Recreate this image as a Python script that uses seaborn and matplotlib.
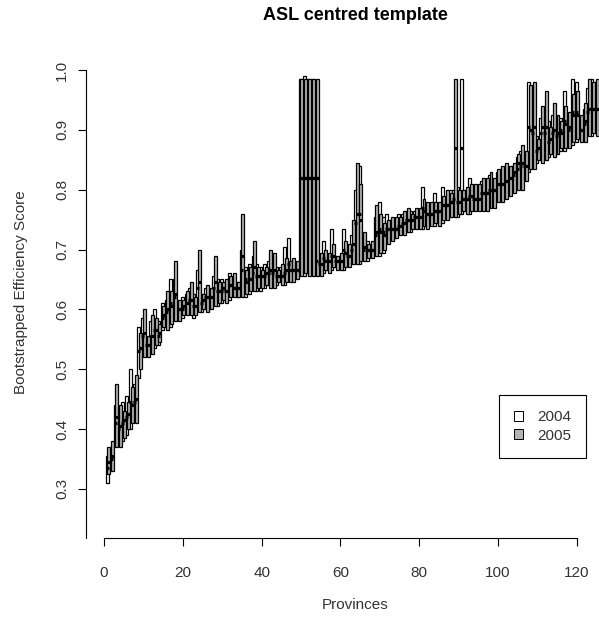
import numpy as np
import matplotlib
matplotlib.use('Agg')
import matplotlib.pyplot as plt
import seaborn as sns
from matplotlib.patches import Patch

# bootstrapped efficiency scores per province (sorted)
provinces = np.arange(1, 126)

lo_2004 = [.31, .335, .375, .38, .38, .39, .40, .415, .485, .525,
           .525, .53, .535, .54, .565, .57, .57, .585, .585, .585,
           .595, .595, .585, .60, .595, .60, .60, .61, .605, .61,
           .615, .615, .625, .62, .625, .62, .625, .635, .63, .63,
           .635, .64, .64, .64, .645, .64, .65, .65, .655, .66,
           .655, .66, .66, .66, .66, .66, .665, .665, .67, .67,
           .665, .675, .68, .68, .675, .685, .68, .69, .695, .69,
           .695, .715, .72, .72, .725, .73, .73, .73, .74, .74,
           .735, .74, .745, .74, .745, .745, .755, .755, .76, .755,
           .76, .765, .76, .77, .77, .77, .77, .775, .775, .785,
           .785, .79, .795, .80, .805, .805, .82, .83, .84, .845,
           .85, .855, .855, .86, .86, .865, .865, .875, .875, .88,
           .885, .885, .895, .89, .895]
med_2004 = [.335, .35, .41, .40, .41, .42, .445, .445, .53, .555,
            .54, .555, .565, .555, .585, .595, .61, .62, .60, .60,
            .61, .615, .605, .635, .61, .62, .62, .635, .63, .63,
            .63, .64, .635, .635, .665, .65, .65, .66, .655, .655,
            .655, .66, .66, .655, .655, .66, .675, .665, .665, .82,
            .82, .82, .82, .68, .675, .685, .68, .69, .68, .68,
            .70, .69, .70, .745, .76, .70, .70, .70, .725, .735,
            .73, .735, .735, .735, .74, .745, .75, .75, .755, .755,
            .77, .76, .76, .765, .765, .775, .775, .78, .785, .78,
            .87, .785, .79, .785, .785, .795, .795, .80, .80, .81,
            .81, .815, .82, .825, .835, .84, .84, .905, .895, .865,
            .895, .895, .88, .895, .89, .90, .915, .90, .93, .93,
            .90, .91, .93, .935, .935]
hi_2004 = [.355, .37, .44, .43, .445, .455, .50, .475, .57, .585,
           .55, .58, .60, .58, .61, .615, .65, .65, .61, .62,
           .625, .635, .625, .665, .625, .635, .63, .655, .65, .65,
           .645, .66, .655, .645, .70, .67, .675, .69, .675, .67,
           .675, .68, .685, .67, .67, .705, .72, .68, .675, .985,
           .99, .985, .985, .70, .69, .715, .69, .735, .69, .69,
           .735, .705, .725, .80, .84, .72, .715, .71, .755, .78,
           .755, .76, .75, .75, .76, .76, .765, .765, .765, .765,
           .805, .775, .775, .795, .775, .805, .79, .80, .80, .805,
           .985, .80, .82, .80, .805, .815, .815, .825, .815, .83,
           .835, .84, .835, .84, .855, .865, .86, .98, .95, .89,
           .92, .935, .915, .925, .915, .92, .965, .92, .985, .98,
           .915, .935, .97, .985, .98]

lo_2005 = [.325, .33, .37, .37, .385, .40, .41, .41, .50, .52,
           .52, .525, .54, .545, .57, .565, .575, .58, .58, .59,
           .59, .59, .59, .595, .60, .595, .60, .605, .61, .615,
           .61, .62, .62, .62, .62, .625, .63, .63, .635, .635,
           .64, .635, .635, .645, .64, .645, .645, .645, .65, .655,
           .66, .655, .655, .655, .655, .665, .66, .67, .665, .665,
           .67, .67, .675, .675, .68, .68, .685, .685, .69, .695,
           .70, .71, .715, .72, .725, .725, .73, .735, .735, .735,
           .74, .735, .74, .745, .74, .75, .75, .755, .755, .76,
           .765, .76, .765, .765, .765, .765, .765, .77, .77, .78,
           .78, .785, .79, .795, .80, .80, .815, .835, .835, .85,
           .845, .85, .86, .855, .86, .87, .87, .87, .88, .885,
           .88, .88, .89, .895, .89]
med_2005 = [.345, .355, .42, .405, .415, .425, .44, .45, .535, .56,
            .54, .555, .565, .56, .59, .60, .605, .625, .60, .605,
            .61, .615, .605, .645, .615, .62, .62, .645, .63, .635,
            .63, .64, .635, .635, .69, .645, .65, .67, .655, .655,
            .66, .665, .665, .655, .655, .665, .665, .665, .665, .82,
            .82, .82, .82, .82, .675, .68, .68, .69, .68, .68,
            .695, .69, .71, .76, .75, .705, .70, .70, .73, .73,
            .725, .735, .735, .735, .74, .745, .75, .75, .755, .755,
            .765, .76, .76, .765, .765, .775, .775, .78, .87, .78,
            .785, .785, .79, .785, .785, .795, .795, .80, .80, .81,
            .81, .815, .82, .83, .845, .845, .84, .90, .905, .87,
            .905, .905, .885, .90, .895, .895, .91, .905, .925, .925,
            .90, .915, .935, .935, .935]
hi_2005 = [.37, .38, .475, .44, .43, .445, .47, .49, .56, .60,
           .555, .59, .585, .575, .605, .63, .63, .68, .615, .615,
           .63, .645, .62, .70, .625, .64, .635, .69, .645, .645,
           .65, .655, .66, .645, .76, .665, .67, .715, .67, .665,
           .67, .70, .695, .665, .675, .685, .68, .685, .68, .985,
           .985, .985, .985, .985, .695, .70, .695, .71, .69, .695,
           .715, .71, .75, .845, .81, .73, .71, .715, .775, .76,
           .745, .75, .755, .755, .755, .765, .77, .76, .77, .77,
           .785, .78, .78, .78, .78, .79, .80, .795, .985, .80,
           .80, .805, .81, .81, .81, .82, .82, .83, .82, .835,
           .84, .845, .84, .845, .86, .875, .865, .975, .98, .885,
           .94, .965, .905, .945, .925, .915, .94, .93, .96, .965,
           .925, .945, .985, .98, .985]

years = ['2004', '2005']
fills = ['white', '#b4b4b4']

sns.set_theme(style="ticks")
plt.rcParams['font.family'] = ['Liberation Sans', 'DejaVu Sans']
plt.rcParams['text.color'] = '#333333'

fig = plt.figure(figsize=(5.99, 6.2), dpi=100)
ax = fig.add_axes([86/599, 1 - 538/620, 513/599, 480/620])

w = 0.75
series = [(provinces - 0.2, lo_2004, med_2004, hi_2004),
          (provinces + 0.2, lo_2005, med_2005, hi_2005)]
for (x, lo, med, hi), col in zip(series, fills):
    lo = np.array(lo)
    hi = np.array(hi)
    ax.bar(x, hi - lo, bottom=lo, width=w, color=col, edgecolor='black',
           linewidth=0.9, zorder=2)
    ax.hlines(med, x - w/2, x + w/2, color='black', linewidth=2.3, zorder=3)

ax.set_xlim(-4.57, 125.6)
ax.set_ylim(0.218, 1.02)
ax.set_xticks(range(0, 121, 20))
ax.set_yticks(np.round(np.arange(0.3, 1.01, 0.1), 1))
ax.set_yticklabels([f'{v:.1f}' for v in np.arange(0.3, 1.01, 0.1)],
                   rotation=90, va='center')
sns.despine(ax=ax)
ax.spines['left'].set_bounds(0.218, 1.0)
ax.spines['bottom'].set_bounds(0, 120)
for s in ['left', 'bottom']:
    ax.spines[s].set_color('black')
    ax.spines[s].set_linewidth(0.8)
ax.tick_params(axis='both', direction='out', length=6, width=0.8,
               color='black', labelsize=11, labelcolor='#333333')
ax.tick_params(axis='x', pad=14)
ax.tick_params(axis='y', pad=6)

fig.text(355/599, 1 - 16/620, 'ASL centred template', ha='center',
         va='center', fontsize=13, fontweight='bold', color='black')
fig.text(355/599, 1 - 605/620, 'Provinces', ha='center', va='center',
         fontsize=11)
fig.text(21/599, 1 - 292/620, 'Bootstrapped Efficiency Score', ha='center',
         va='center', rotation=90, fontsize=11)

handles = [Patch(facecolor=c, edgecolor='black', linewidth=0.7) for c in fills]
leg = fig.legend(handles, years, loc='lower left',
                 bbox_to_anchor=(499/599, 1 - 458/620), fontsize=11,
                 frameon=True, fancybox=False, edgecolor='black',
                 framealpha=1, handlelength=0.6, handleheight=0.6,
                 handletextpad=0.9, borderpad=1.0, borderaxespad=0,
                 labelspacing=0.3)
leg.get_frame().set_linewidth(0.8)

fig.savefig('out.png', dpi=100)
